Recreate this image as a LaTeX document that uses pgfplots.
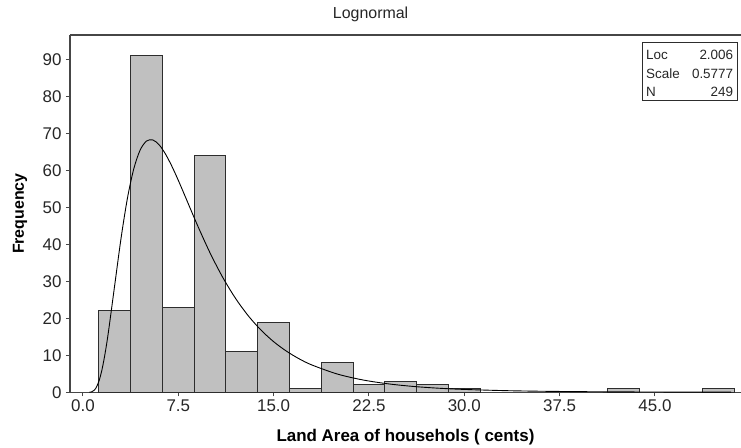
\documentclass[border=0pt]{standalone}
\usepackage{fontspec}
\setmainfont{Liberation Sans}
\usepackage{pgfplots}
\usepackage{pgfplotstable}
\pgfplotsset{compat=1.18}

\definecolor{barfill}{RGB}{192,192,192}
\definecolor{edge}{RGB}{45,45,45}
\definecolor{axisgray}{RGB}{70,70,70}

% Histogram counts, bin width 2.5 (bin centres)
\pgfplotstableread{
x count
2.5 22
5 91
7.5 23
10 64
12.5 11
15 19
17.5 1
20 8
22.5 2
25 3
27.5 2
30 1
42.5 1
50 1
}\bins

% Fitted lognormal (Loc 2.006, Scale 0.5777), scaled to N * bin width
\pgfplotstableread{
x f
0.5 0.016
0.7 0.143
0.9 0.600
1.0 1.035
1.25 2.94
1.5 6.17
1.75 10.70
2 16.25
2.5 29.03
3 41.74
3.5 52.50
4 60.46
4.5 65.50
5 67.93
5.5 68.22
6 66.89
6.5 64.37
7 61.08
7.5 57.31
8 53.30
9 45.22
10 37.68
11 31.05
12 25.41
13 20.71
14 16.84
15 13.69
16 11.14
17 9.07
18 7.40
20 4.95
22 3.35
24 2.29
26 1.58
28 1.10
30 0.776
33 0.467
36 0.287
40 0.154
45 0.074
51 0.033
}\fitcurve

\begin{document}
\begin{tikzpicture}
\begin{axis}[
  name=ax,
  scale only axis,
  width=671bp, height=357.3bp,
  xmin=-1.02, xmax=51.77,
  ymin=0, ymax=96.6,
  axis x line*=box, axis y line*=left,
  axis line style={draw=axisgray, line width=1.1bp},
  tick style={draw=axisgray, line width=1bp},
  tick align=outside,
  major tick length=4bp,
  xtick pos=left, ytick pos=left,
  xtick={0,7.5,...,45},
  ytick={0,10,...,90},
  /pgf/number format/assume math mode=true,
  xticklabel style={/pgf/number format/.cd, fixed, fixed zerofill, precision=1},
  yticklabel style={xshift=-1bp},
  ticklabel style={font=\fontsize{17}{17}\selectfont, text=black!85},
  xlabel={Land Area of househols ( cents)},
  ylabel={Frequency},
  xlabel style={font=\bfseries\fontsize{17}{17}\selectfont, at={(axis description cs:0.5,-0.125)}, anchor=center},
  ylabel style={font=\bfseries\fontsize{16}{16}\selectfont, at={(axis description cs:-0.0745,0.5)}, anchor=center},
  title={Lognormal},
  every axis title shift=0pt,
  title style={font=\fontsize{16}{16}\selectfont, at={(axis description cs:0.448,1.059)}, anchor=center, text=black!85},
  clip=false,
]
\addplot[ybar, bar width=2.5, bar shift=0pt, fill=barfill, draw=edge, line width=1bp]
  table[x=x, y=count] {\bins};
\addplot[black, line width=0.9bp, smooth, tension=0.5] table[x=x, y=f] {\fitcurve};
\node[draw=edge, line width=1bp, anchor=north east, inner sep=0pt,
      minimum width=95bp, minimum height=58bp]
  (stats) at (axis description cs:0.9955,0.980) {};
\node[anchor=north west, inner sep=0pt, font=\fontsize{13.5}{19}\selectfont, text=black!85]
  at ([xshift=4bp,yshift=-3.5bp]stats.north west)
  {\begin{tabular}{@{}p{40bp}@{}>{\raggedleft\arraybackslash}p{47bp}@{}}
   Loc & 2.006\\ Scale & 0.5777\\ N & 249
   \end{tabular}};
\end{axis}
\pgfresetboundingbox
\useasboundingbox ([xshift=-70bp,yshift=-55.7bp]ax.south west) rectangle ([yshift=35bp]ax.north east);
\end{tikzpicture}
\end{document}
